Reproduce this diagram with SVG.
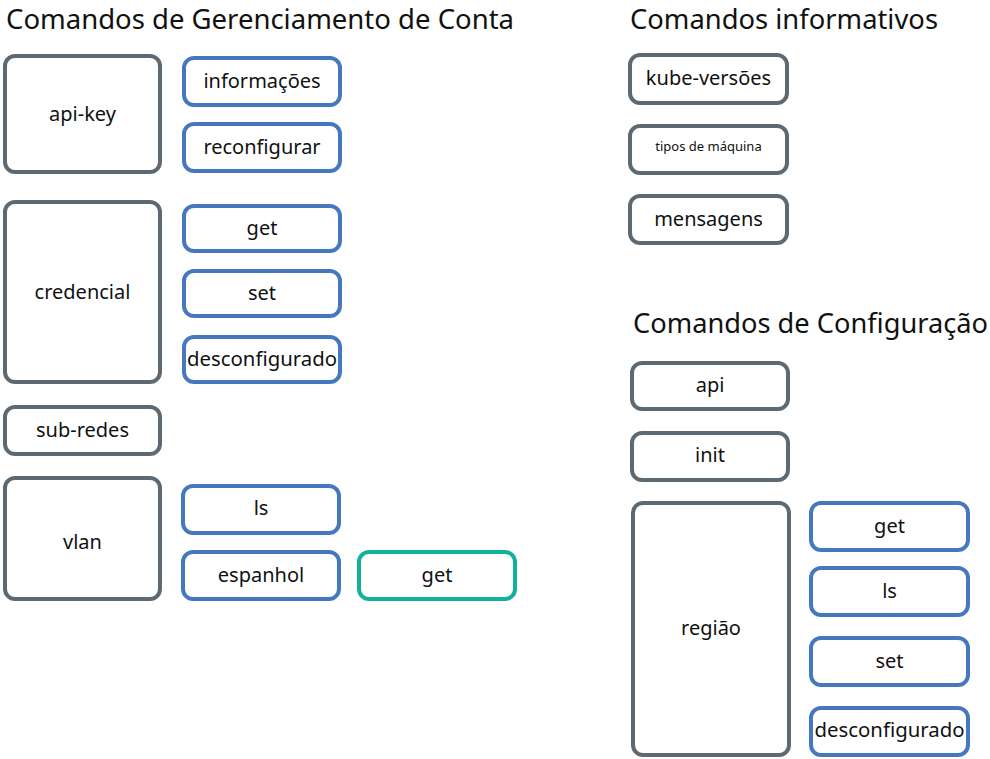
<svg xmlns="http://www.w3.org/2000/svg" width="990" height="759" viewBox="0 0 990 759">
<style>
.title{font-family:"Noto Sans","Liberation Sans",sans-serif;font-size:26.5px;fill:#111}
.lbl{font-family:"Noto Sans","Liberation Sans",sans-serif;font-size:20px;fill:#111;text-anchor:middle}
.sm{font-size:13px}
.g{fill:#fff;stroke:#5e6a73;stroke-width:4}
.b{fill:#fff;stroke:#4678bf;stroke-width:4}
.t{fill:#fff;stroke:#12b19c;stroke-width:4}
</style>
<rect width="990" height="759" fill="#fff"/>
<text class="title" x="6" y="28.5" textLength="508" lengthAdjust="spacingAndGlyphs">Comandos de Gerenciamento de Conta</text>
<text class="title" x="630" y="28.5" textLength="308" lengthAdjust="spacingAndGlyphs">Comandos informativos</text>
<text class="title" x="633" y="333" textLength="355" lengthAdjust="spacingAndGlyphs">Comandos de Configuração</text>
<g id="connectors"></g>
<g id="api-key"><rect class="g" x="5" y="56" width="155" height="116" rx="10"/><text class="lbl" x="82.5" y="121">api-key</text></g>
<g id="informacoes"><rect class="b" x="184" y="58" width="156" height="47" rx="10"/><text class="lbl" x="262" y="88">informações</text></g>
<g id="reconfigurar"><rect class="b" x="184" y="124" width="156" height="47" rx="10"/><text class="lbl" x="262" y="154">reconfigurar</text></g>
<g id="credencial"><rect class="g" x="5" y="202" width="155" height="180" rx="10"/><text class="lbl" x="82.5" y="299">credencial</text></g>
<g id="cred-get"><rect class="b" x="184" y="206" width="156" height="45" rx="10"/><text class="lbl" x="262" y="235">get</text></g>
<g id="cred-set"><rect class="b" x="184" y="271" width="156" height="45" rx="10"/><text class="lbl" x="262" y="300">set</text></g>
<g id="cred-desconfigurado"><rect class="b" x="184" y="337" width="156" height="45" rx="10"/><text class="lbl" x="262" y="366" textLength="150" lengthAdjust="spacingAndGlyphs">desconfigurado</text></g>
<g id="sub-redes"><rect class="g" x="5" y="407" width="155" height="47" rx="10"/><text class="lbl" x="82.5" y="437">sub-redes</text></g>
<g id="vlan"><rect class="g" x="5" y="478" width="155" height="121" rx="10"/><text class="lbl" x="82.5" y="549">vlan</text></g>
<g id="vlan-ls"><rect class="b" x="183" y="486" width="156" height="47" rx="10"/><text class="lbl" x="261" y="515">ls</text></g>
<g id="vlan-espanhol"><rect class="b" x="183" y="552" width="156" height="47" rx="10"/><text class="lbl" x="261" y="582">espanhol</text></g>
<g id="espanhol-get"><rect class="t" x="359" y="552" width="156" height="47" rx="10"/><text class="lbl" x="437" y="582">get</text></g>
<g id="kube-versoes"><rect class="g" x="630" y="55" width="157" height="48" rx="10"/><text class="lbl" x="708.5" y="85">kube-versões</text></g>
<g id="tipos-de-maquina"><rect class="g" x="630" y="126" width="157" height="47" rx="10"/><text class="lbl sm" x="708.5" y="151">tipos de máquina</text></g>
<g id="mensagens"><rect class="g" x="630" y="196" width="157" height="47" rx="10"/><text class="lbl" x="708.5" y="226">mensagens</text></g>
<g id="api"><rect class="g" x="632" y="363" width="156" height="46" rx="10"/><text class="lbl" x="710" y="392">api</text></g>
<g id="init"><rect class="g" x="632" y="433" width="156" height="47" rx="10"/><text class="lbl" x="710" y="462">init</text></g>
<g id="regiao"><rect class="g" x="633" y="503" width="156" height="252" rx="10"/><text class="lbl" x="711" y="635">região</text></g>
<g id="reg-get"><rect class="b" x="811" y="503" width="157" height="47" rx="10"/><text class="lbl" x="889.5" y="533">get</text></g>
<g id="reg-ls"><rect class="b" x="811" y="568" width="157" height="47" rx="10"/><text class="lbl" x="889.5" y="598">ls</text></g>
<g id="reg-set"><rect class="b" x="811" y="638" width="157" height="47" rx="10"/><text class="lbl" x="889.5" y="668">set</text></g>
<g id="reg-desconfigurado"><rect class="b" x="811" y="708" width="157" height="47" rx="10"/><text class="lbl" x="889.5" y="737" textLength="150" lengthAdjust="spacingAndGlyphs">desconfigurado</text></g>
</svg>
